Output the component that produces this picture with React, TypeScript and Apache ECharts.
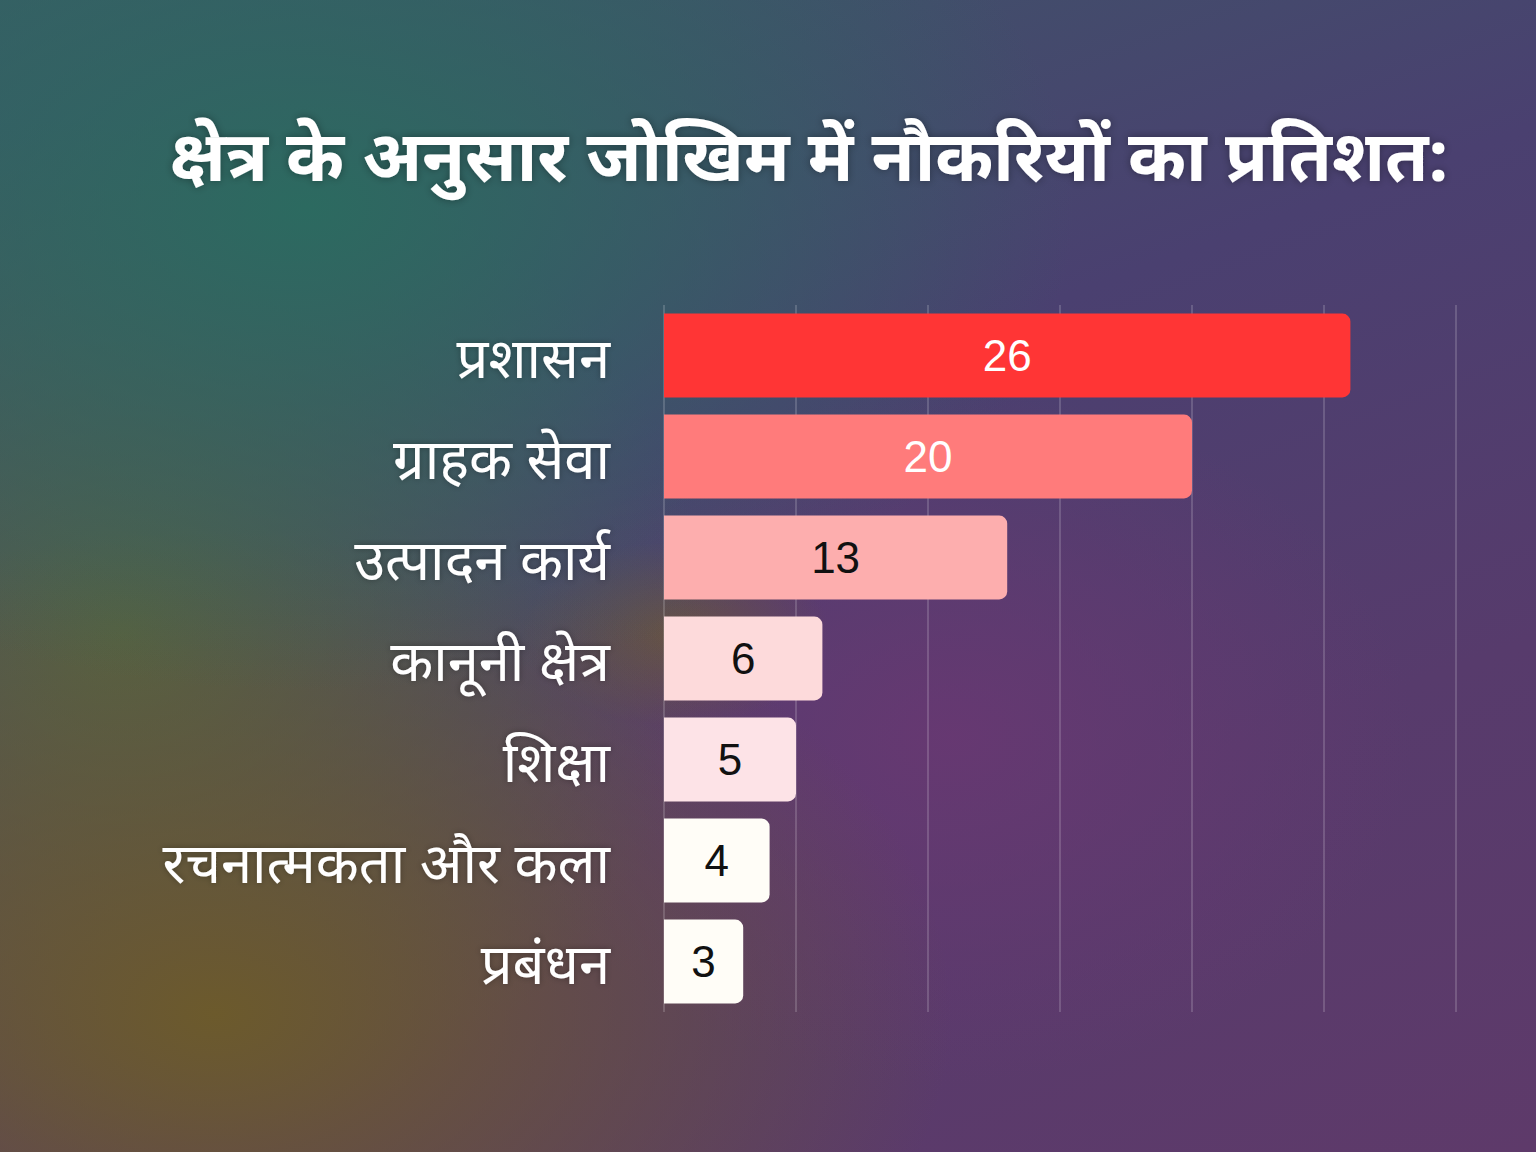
import * as echarts from "echarts";
import { useEffect, useRef } from "react";

const title = "क्षेत्र के अनुसार जोखिम में नौकरियों का प्रतिशत:";
const categories = [
  "प्रशासन",
  "ग्राहक सेवा",
  "उत्पादन कार्य",
  "कानूनी क्षेत्र",
  "शिक्षा",
  "रचनात्मकता और कला",
  "प्रबंधन",
];
const values = [26, 20, 13, 6, 5, 4, 3];
const barColors = ["#ff3535", "#ff7b7b", "#fdaeae", "#fddadb", "#fde3e7", "#fffdf7", "#fffdf7"];
const labelColors = ["#ffffff", "#ffffff", "#111111", "#111111", "#111111", "#111111", "#111111"];

const pageBg = [
  "radial-gradient(ellipse 50% 42% at 20% 18%, rgba(44,106,96,1), rgba(44,106,96,0) 100%)",
  "radial-gradient(ellipse 48% 42% at 14% 88%, rgba(108,90,44,1), rgba(108,90,44,0) 100%)",
  "radial-gradient(ellipse 38% 45% at 8% 55%, rgba(82,98,70,1), rgba(82,98,70,0) 100%)",
  "radial-gradient(ellipse 10% 8% at 44% 55%, rgba(110,92,50,0.7), rgba(110,92,50,0) 100%)",
  "radial-gradient(ellipse 30% 30% at 62% 64%, rgba(104,56,114,0.9), rgba(104,56,114,0) 100%)",
  "linear-gradient(160deg, #3a5a66 0%, #4a4070 40%, #573b6c 70%, #5e3a6a 100%)",
].join(", ");

export default function App() {
  const chartRef = useRef<HTMLDivElement>(null);

  useEffect(() => {
    if (!chartRef.current) return;
    const chart = echarts.init(chartRef.current, undefined, { renderer: "svg" });

    const option = {
      animation: false,
      backgroundColor: "transparent",
      title: {
        text: title,
        left: 804,
        top: 114,
        textAlign: "center",
        textStyle: {
          color: "#ffffff",
          fontSize: 70,
          fontWeight: "bold",
          fontFamily: "'Noto Sans', sans-serif",
          textShadowColor: "rgba(0,0,0,0.35)",
          textShadowBlur: 8,
        },
      },
      grid: { left: 664, right: 80, top: 305, height: 707 },
      xAxis: {
        type: "value",
        min: 0,
        max: 30,
        interval: 5,
        axisLabel: { show: false },
        axisLine: { show: false },
        axisTick: { show: false },
        splitLine: { lineStyle: { color: "rgba(255,255,255,0.22)", width: 1.5 } },
      },
      yAxis: {
        type: "category",
        inverse: true,
        data: categories,
        axisLine: { show: false },
        axisTick: { show: false },
        axisLabel: {
          color: "#ffffff",
          fontSize: 56,
          margin: 54,
          fontFamily: "'Noto Sans', sans-serif",
          textShadowColor: "rgba(0,0,0,0.3)",
          textShadowBlur: 6,
        },
      },
      series: [
        {
          type: "bar",
          barCategoryGap: "17%",
          data: values.map((v, i) => ({
            value: v,
            itemStyle: { color: barColors[i], borderRadius: [0, 8, 8, 0] },
            label: { color: labelColors[i] },
          })),
          label: {
            show: true,
            position: "inside",
            fontSize: 44,
            fontFamily: "'Liberation Sans', Arial, sans-serif",
          },
        },
      ],
    };

    chart.setOption(option);
    return () => chart.dispose();
  }, []);

  return (
    <div style={{ position: "fixed", left: 0, top: 0, width: 1536, height: 1152, background: pageBg }}>
      <div ref={chartRef} style={{ width: 1536, height: 1152 }} />
    </div>
  );
}
